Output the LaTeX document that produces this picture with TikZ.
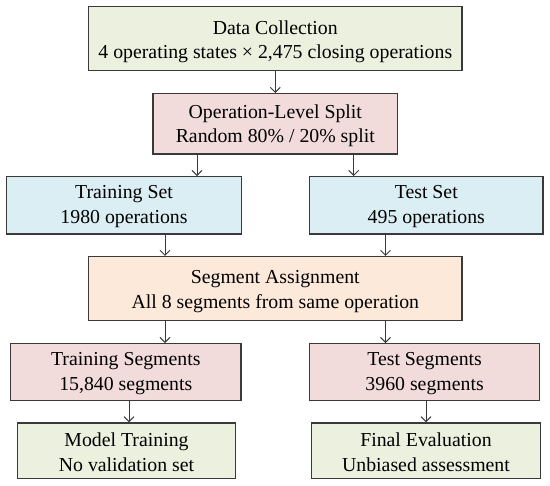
\documentclass[tikz,border=0pt]{standalone}
\usepackage{fontspec}
\setmainfont{Liberation Serif}
\usetikzlibrary{arrows.meta}
\definecolor{gfill}{HTML}{EBF1DE}
\definecolor{pfill}{HTML}{F2DCDB}
\definecolor{bfill}{HTML}{DBEEF4}
\definecolor{ofill}{HTML}{FDE9D9}
\definecolor{bordc}{HTML}{3A3A3A}
\begin{document}
\begin{tikzpicture}[x=1pt,y=-1pt,
  box/.style={draw=bordc, line width=1.2pt, inner sep=0pt},
  txt/.style={align=center, inner sep=0pt, font=\fontsize{19.8}{24.5}\selectfont},
  arr/.style={-{Straight Barb[length=5pt,width=10pt]}, line width=1pt, draw=bordc}]
\useasboundingbox (0,0) rectangle (550,486);
\node[box, fill=gfill, minimum width=373.3pt, minimum height=64pt,
  label={[txt,yshift=-3pt]center:{Data Collection\\4 operating states × 2,475 closing operations}}]
  (dc) at (275.3,38.7) {};
\node[box, fill=pfill, minimum width=244.7pt, minimum height=60.3pt,
  label={[txt,yshift=-2pt]center:{Operation-Level Split\\Random 80\% / 20\% split}}]
  (ols) at (275.3,123.8) {};
\node[box, fill=bfill, minimum width=234.6pt, minimum height=57.3pt,
  label={[txt,yshift=-1.5pt]center:{Training Set\\1980 operations}}]
  (trs) at (124,205.3) {};
\node[box, fill=bfill, minimum width=233.3pt, minimum height=57.3pt,
  label={[txt,yshift=-1.5pt]center:{Test Set\\495 operations}}]
  (tes) at (426.3,205.3) {};
\node[box, fill=ofill, minimum width=373.3pt, minimum height=64pt,
  label={[txt,yshift=-3pt]center:{Segment Assignment\\All 8 segments from same operation}}]
  (sa) at (275.3,288.6) {};
\node[box, fill=pfill, minimum width=230.3pt, minimum height=56.6pt,
  label={[txt,yshift=-1.5pt]center:{Training Segments\\15,840 segments}}]
  (trseg) at (125.8,372) {};
\node[box, fill=pfill, minimum width=230.2pt, minimum height=56.6pt,
  label={[txt,yshift=-1.5pt]center:{Test Segments\\3960 segments}}]
  (teseg) at (424.6,372) {};
\node[box, fill=gfill, minimum width=218.4pt, minimum height=55.7pt,
  label={[txt,yshift=-1.5pt]center:{Model Training\\No validation set}}]
  (mt) at (126.5,450.8) {};
\node[box, fill=gfill, minimum width=228.5pt, minimum height=55.7pt,
  label={[txt,yshift=-1.5pt]center:{Final Evaluation\\Unbiased assessment}}]
  (fe) at (426,450.8) {};
\coordinate (xa) at (197,0);
\coordinate (xb) at (353.7,0);
\coordinate (xc) at (165,0);
\coordinate (xd) at (385.5,0);
\coordinate (xe) at (129,0);
\coordinate (xf) at (426,0);
\draw[arr] (dc.south) -- (ols.north);
\draw[arr] (ols.south -| xa) -- (trs.north -| xa);
\draw[arr] (ols.south -| xb) -- (tes.north -| xb);
\draw[arr] (trs.south -| xc) -- (sa.north -| xc);
\draw[arr] (tes.south -| xd) -- (sa.north -| xd);
\draw[arr] (sa.south -| xc) -- (trseg.north -| xc);
\draw[arr] (sa.south -| xd) -- (teseg.north -| xd);
\draw[arr] (trseg.south -| xe) -- (mt.north -| xe);
\draw[arr] (teseg.south -| xf) -- (fe.north -| xf);
\end{tikzpicture}
\end{document}
